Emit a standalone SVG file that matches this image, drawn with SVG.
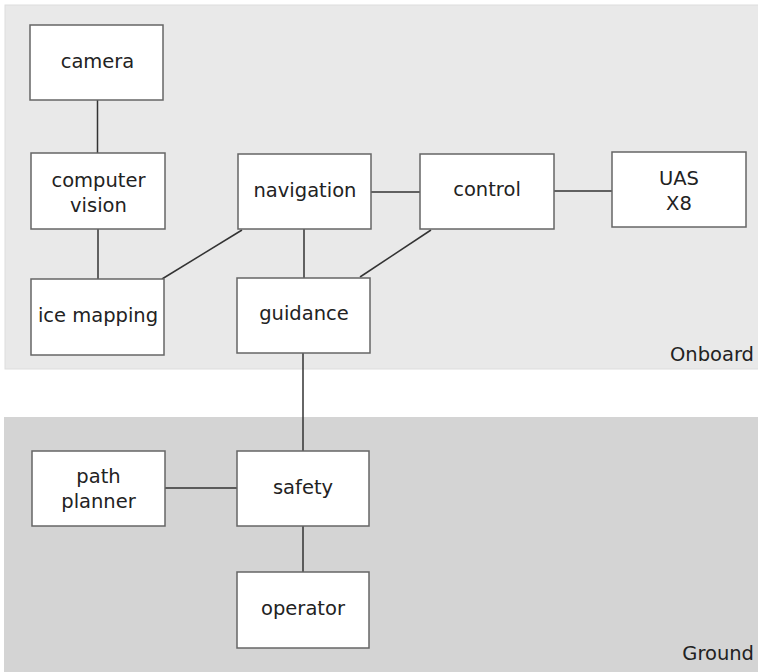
<svg xmlns="http://www.w3.org/2000/svg" width="758" height="672" viewBox="0 0 758 672">
  <style>
    .zone-on { fill: #e9e9e9; stroke: #dddddd; stroke-width: 1; }
    .zone-gr { fill: #d4d4d4; stroke: none; }
    .box { fill: #ffffff; stroke: #666666; stroke-width: 1.5; }
    .lbl { font-family: "DejaVu Sans", Verdana, sans-serif; font-size: 19.5px; fill: #222222; text-anchor: middle; }
    .zlbl { font-family: "DejaVu Sans", Verdana, sans-serif; font-size: 19.5px; fill: #222222; text-anchor: end; }
    .wire { stroke: #333333; stroke-width: 1.5; fill: none; }
  </style>

  <!-- zones -->
  <g id="zone-onboard">
    <rect class="zone-on" x="5" y="5" width="760" height="364"/>
    <text class="zlbl" x="754" y="361">Onboard</text>
  </g>
  <g id="zone-ground">
    <rect class="zone-gr" x="4" y="417" width="760" height="260"/>
    <text class="zlbl" x="754" y="660">Ground</text>
  </g>

  <!-- connectors -->
  <g id="connectors">
    <line class="wire" x1="97.5" y1="100" x2="97.5" y2="153"/>
    <line class="wire" x1="98" y1="229" x2="98" y2="279"/>
    <line class="wire" x1="242" y1="230" x2="162" y2="279"/>
    <line class="wire" x1="304" y1="229" x2="304" y2="278"/>
    <line class="wire" x1="371" y1="192" x2="420" y2="192"/>
    <line class="wire" x1="554" y1="191" x2="612" y2="191"/>
    <line class="wire" x1="431" y1="230" x2="360" y2="277"/>
    <line class="wire" x1="303" y1="353" x2="303" y2="451"/>
    <line class="wire" x1="165" y1="488" x2="237" y2="488"/>
    <line class="wire" x1="303" y1="526" x2="303" y2="572"/>
  </g>

  <!-- nodes -->
  <g id="camera">
    <rect class="box" x="30" y="25" width="133" height="75"/>
    <text class="lbl" x="97.5" y="68">camera</text>
  </g>
  <g id="computer-vision">
    <rect class="box" x="31" y="153" width="134" height="76"/>
    <text class="lbl" x="98.5" y="187">computer</text>
    <text class="lbl" x="98.5" y="212">vision</text>
  </g>
  <g id="ice-mapping">
    <rect class="box" x="31" y="279" width="133" height="76"/>
    <text class="lbl" x="98" y="322">ice mapping</text>
  </g>
  <g id="navigation">
    <rect class="box" x="238" y="154" width="133" height="75"/>
    <text class="lbl" x="305" y="197">navigation</text>
  </g>
  <g id="guidance">
    <rect class="box" x="237" y="278" width="133" height="75"/>
    <text class="lbl" x="304" y="320">guidance</text>
  </g>
  <g id="control">
    <rect class="box" x="420" y="154" width="134" height="75"/>
    <text class="lbl" x="487" y="196">control</text>
  </g>
  <g id="uas-x8">
    <rect class="box" x="612" y="152" width="134" height="75"/>
    <text class="lbl" x="679" y="185">UAS</text>
    <text class="lbl" x="679" y="210">X8</text>
  </g>
  <g id="path-planner">
    <rect class="box" x="32" y="451" width="133" height="75"/>
    <text class="lbl" x="98.5" y="483">path</text>
    <text class="lbl" x="98.5" y="508">planner</text>
  </g>
  <g id="safety">
    <rect class="box" x="237" y="451" width="132" height="75"/>
    <text class="lbl" x="303" y="494">safety</text>
  </g>
  <g id="operator">
    <rect class="box" x="237" y="572" width="132" height="76"/>
    <text class="lbl" x="303" y="615">operator</text>
  </g>
</svg>
